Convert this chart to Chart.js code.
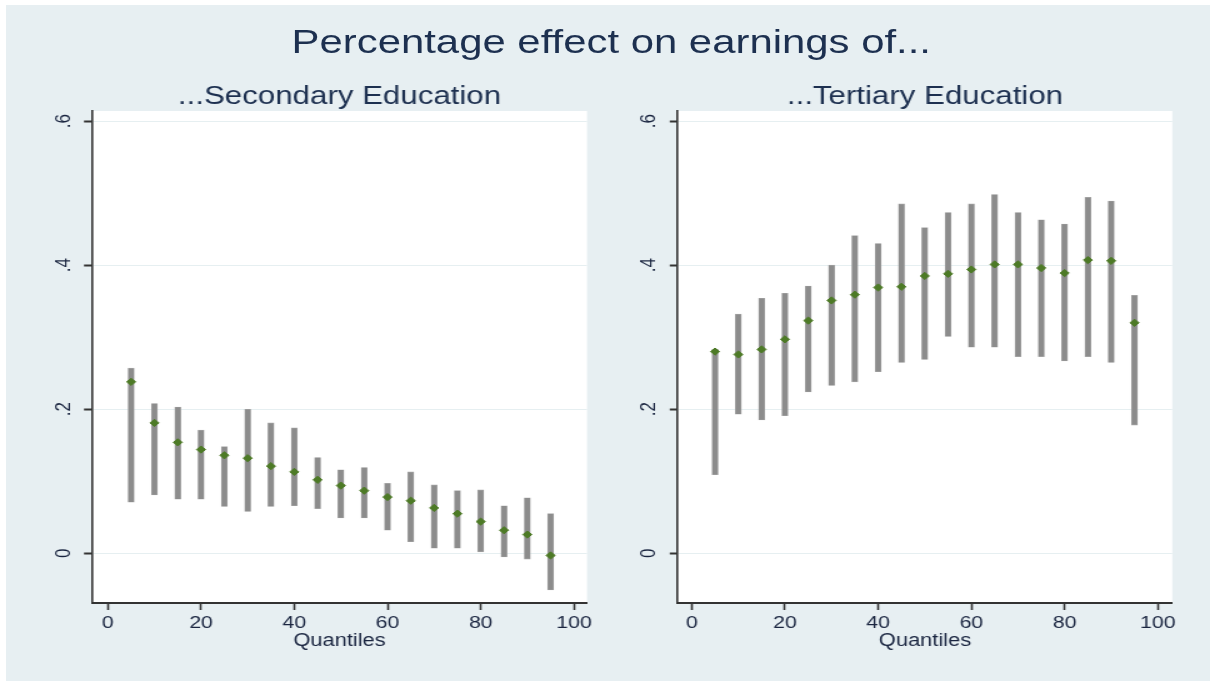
<!DOCTYPE html>
<html>
<head>
<meta charset="utf-8">
<title>Percentage effect on earnings of...</title>
<script src="https://cdn.jsdelivr.net/npm/chart.js@4/dist/chart.umd.min.js"></script>
<style>
  html, body { margin: 0; padding: 0; background: #fff; overflow: hidden; }
  #bg { position: absolute; left: 6px; top: 5px; width: 1204px; height: 676px; background: #e7eff2; }
  /* the reference is stretched sideways, so the whole stage is too */
  #stage { position: absolute; left: 0; top: 0; width: 968px; height: 681px; transform: scaleX(1.25); transform-origin: 0 0; }
  #main-title {
    position: absolute; left: 0; width: 978px; top: 25px; text-align: center;
    font: 33.5px/1 "Liberation Sans", Arial, sans-serif; color: #1d3050;
  }
  canvas { position: absolute; top: 0; }
</style>
</head>
<body>
<div id="bg"></div>
<div id="stage">
  <div id="main-title">Percentage effect on earnings of...</div>
  <canvas id="secondaryChart" width="484" height="681" style="left:0"></canvas>
  <canvas id="tertiaryChart" width="484" height="681" style="left:484px"></canvas>
</div>
<script>
const quantiles = [5, 10, 15, 20, 25, 30, 35, 40, 45, 50, 55, 60, 65, 70, 75, 80, 85, 90, 95];

const secondaryPoint = [0.238, 0.181, 0.154, 0.144, 0.136, 0.132, 0.121, 0.113, 0.102, 0.094, 0.087, 0.078, 0.073, 0.063, 0.055, 0.044, 0.032, 0.026, -0.003];
const secondaryLow = [0.071, 0.081, 0.075, 0.075, 0.065, 0.058, 0.065, 0.066, 0.062, 0.049, 0.049, 0.032, 0.016, 0.007, 0.007, 0.002, -0.005, -0.008, -0.051];
const secondaryHigh = [0.257, 0.208, 0.203, 0.171, 0.148, 0.200, 0.181, 0.174, 0.133, 0.116, 0.119, 0.097, 0.113, 0.095, 0.087, 0.088, 0.066, 0.077, 0.055];

const tertiaryPoint = [0.280, 0.276, 0.283, 0.297, 0.323, 0.351, 0.359, 0.369, 0.370, 0.385, 0.388, 0.394, 0.401, 0.401, 0.396, 0.389, 0.407, 0.406, 0.320];
const tertiaryLow = [0.109, 0.193, 0.185, 0.191, 0.224, 0.233, 0.238, 0.252, 0.265, 0.269, 0.301, 0.286, 0.286, 0.273, 0.273, 0.267, 0.273, 0.265, 0.178];
const tertiaryHigh = [0.283, 0.332, 0.354, 0.361, 0.371, 0.400, 0.441, 0.430, 0.485, 0.452, 0.473, 0.485, 0.498, 0.473, 0.463, 0.457, 0.494, 0.489, 0.358];

const xTicks = [0, 20, 40, 60, 80, 100];
const yTicks = [0, 0.2, 0.4, 0.6];
const yTickLabels = ["0", ".2", ".4", ".6"];

const FONT = '"Liberation Sans", Arial, sans-serif';
const TEXT = "#1a2540";

// white plot region behind the marks
const plotBackground = {
  id: "plotBackground",
  beforeDraw(chart) {
    const { ctx, chartArea: a } = chart;
    ctx.save();
    ctx.fillStyle = "#ffffff";
    ctx.fillRect(a.left, a.top, a.right - a.left, a.bottom - a.top);
    ctx.restore();
  }
};

function createPanel(canvasId, title, points, low, high, xMin, xMax, padLeft, padRight) {
  new Chart(document.getElementById(canvasId), {
    type: "scatter",
    data: {
      datasets: [
        {
          type: "scatter",
          order: 0,
          data: quantiles.map((q, i) => ({ x: q, y: points[i] })),
          pointStyle: "rectRot",
          pointRadius: 3.6,
          backgroundColor: "#4d7a26",
          borderColor: "#4d7a26",
          borderWidth: 1
        },
        {
          type: "bar",
          order: 1,
          data: quantiles.map((q, i) => ({ x: q, y: [low[i], high[i]] })),
          barThickness: 4.8,
          backgroundColor: "#8c8c8c",
          borderColor: "#a8a8a8",
          borderWidth: 0.6,
          borderSkipped: false
        }
      ]
    },
    options: {
      responsive: false,
      animation: false,
      devicePixelRatio: 1,
      layout: { padding: { top: 85, bottom: 28, left: padLeft, right: padRight } },
      plugins: {
        legend: { display: false },
        tooltip: { enabled: false },
        title: {
          display: true,
          text: title,
          fullSize: false,
          color: "#1d3050",
          font: { family: FONT, size: 25, weight: "normal", lineHeight: 1 },
          padding: { top: 0, bottom: 1 }
        }
      },
      scales: {
        x: {
          type: "linear",
          min: xMin,
          max: xMax,
          offset: false,
          afterBuildTicks: (s) => { s.ticks = xTicks.map((v) => ({ value: v })); },
          afterFit: (s) => { s.height = 50; },
          grid: { offset: false, drawOnChartArea: false, drawTicks: true, tickLength: 7, tickColor: "#333", tickWidth: 1.6 },
          border: { display: true, color: "#333", width: 2 },
          ticks: { color: TEXT, padding: 3.5, maxRotation: 0, font: { family: FONT, size: 17 } },
          title: { display: true, text: "Quantiles", color: TEXT, padding: { top: 0, bottom: 1.4 }, font: { family: FONT, size: 17.5 } }
        },
        y: {
          type: "linear",
          min: -0.069,
          max: 0.614,
          afterBuildTicks: (s) => { s.ticks = yTicks.map((v) => ({ value: v })); },
          afterFit: (s) => { s.width = 40; },
          grid: { color: "#e6eff1", lineWidth: 1, drawTicks: true, tickLength: 6.4, tickColor: "#333", tickWidth: 2 },
          border: { display: true, color: "#333", width: 1.6 },
          ticks: {
            color: TEXT,
            padding: 8.9,
            minRotation: 90,
            maxRotation: 90,
            crossAlign: "center",
            font: { family: FONT, size: 17 },
            callback: (value) => yTickLabels[yTicks.indexOf(value)] ?? ""
          }
        }
      }
    },
    plugins: [plotBackground]
  });
}

createPanel("secondaryChart", "...Secondary Education", secondaryPoint, secondaryLow, secondaryHigh, -3.4, 102.8, 33.6, 14.4);
createPanel("tertiaryChart", "...Tertiary Education", tertiaryPoint, tertiaryLow, tertiaryHigh, -3.0, 103.1, 18.2, 30.2);
</script>
</body>
</html>
